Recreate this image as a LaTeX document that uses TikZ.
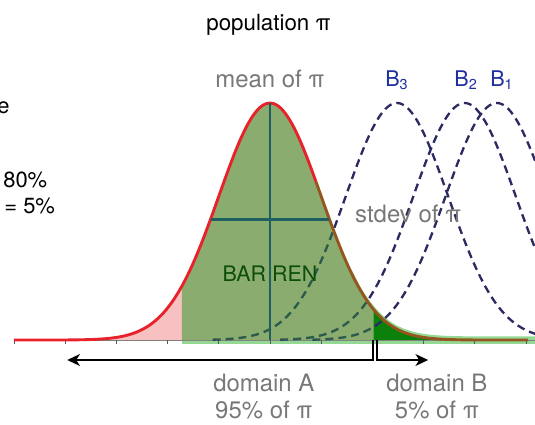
\documentclass[tikz,border=0pt]{standalone}
\usepackage{fontspec}
\setmainfont{TeX Gyre Heros}
\usetikzlibrary{arrows.meta}
\definecolor{popred}{HTML}{E8222A}
\definecolor{tailpink}{HTML}{F7C1C1}
\definecolor{accgreen}{HTML}{8AAC6E}
\definecolor{lightgr}{HTML}{94D894}
\definecolor{darkgr}{HTML}{0B800B}
\definecolor{tealln}{HTML}{1F5F5F}
\definecolor{navyd}{HTML}{2B2B62}
\definecolor{dashin}{HTML}{2C5A4C}
\definecolor{lblgray}{HTML}{787878}
\definecolor{bblue}{HTML}{1E2E9E}
\definecolor{brownln}{HTML}{94561E}
\definecolor{bartext}{HTML}{0D4D0D}
\newcommand{\peakh}{4.629}
\begin{document}
\begin{tikzpicture}[>={Stealth[length=7pt,width=6.5pt,inset=2pt]},
  lbl/.style={text=lblgray, font=\fontsize{13.3}{15}\selectfont},
  blbl/.style={anchor=base, text=bblue, font=\fontsize{12}{14}\selectfont},
  bcurve/.style={dash pattern=on 4.4pt off 2.8pt, line width=1.3pt, smooth, samples=80}]
  \useasboundingbox (-5.273,-1.641) rectangle (5.176,6.641);
  \clip (-5.273,-1.641) rectangle (5.176,6.641);
  % tails of pi
  \fill[tailpink] (-5,0) -- plot[domain=-5:-1.72, smooth, variable=\x] ({\x},{\peakh*exp(-\x*\x/2)}) -- (-1.72,0) -- cycle;
  \fill[lightgr] (1.6,0) -- plot[domain=1.6:5.18, smooth] ({\x},{\peakh*exp(-\x*\x/2)+0.07}) -- (5.18,0) -- cycle;
  \fill[lightgr] (-1.72,-0.07) rectangle (5.18,0);
  \fill[darkgr] (2.02,0) -- plot[domain=2.02:5.04, smooth] ({\x},{\peakh*exp(-\x*\x/2)}) -- (5.04,0) -- cycle;
  % axis
  \draw[gray, line width=0.4pt] (-5,0) -- (5.18,0);
  \foreach \t in {-5,...,5}
    \draw[gray!70!black, line width=0.5pt] (\t,0) -- (\t,-0.07);
  % B curves
  \foreach \m in {2.48,3.80,4.43}
    \draw[bcurve, navyd, domain=\m-3.6:\m+3.6] plot ({\x},{\peakh*exp(-(\x-\m)*(\x-\m)/2)});
  % domain A of pi
  \fill[accgreen] (-1.72,0) -- plot[domain=-1.72:2.02, smooth] ({\x},{\peakh*exp(-\x*\x/2)}) -- (2.02,0) -- cycle;
  \begin{scope}
    \clip (-1.72,0) -- plot[domain=-1.72:2.02, smooth] ({\x},{\peakh*exp(-\x*\x/2)}) -- (2.02,0) -- cycle;
    \foreach \m in {2.48,3.80,4.43}
      \draw[bcurve, dashin, domain=\m-3.6:\m+3.6] plot ({\x},{\peakh*exp(-(\x-\m)*(\x-\m)/2)});
  \end{scope}
  % population curve
  \draw[popred, line width=1.6pt, domain=-5:0.9, smooth, samples=80] plot ({\x},{\peakh*exp(-\x*\x/2)});
  \draw[brownln, line width=1.6pt, domain=0.9:5.04, smooth, samples=60] plot ({\x},{\peakh*exp(-\x*\x/2)});
  % mean and stdev
  \coordinate (foot) at (0,0);
  \coordinate (peak) at (0,\peakh);
  \coordinate (sdl) at (-1.16,2.362);
  \coordinate (sdr) at (1.16,2.362);
  \draw[tealln, line width=1.6pt] (foot) -- (peak);
  \draw[tealln, line width=1.6pt] (sdl) -- (sdr);
  % domain arrows
  \coordinate (cutA) at (2.02,0);
  \coordinate (cutB) at (2.09,0);
  \coordinate (endA) at (-3.96,-0.39);
  \coordinate (endB) at (3.09,-0.39);
  \draw[->, line width=1.2pt] (cutA) |- (endA);
  \draw[->, line width=1.2pt] (cutB) |- (endB);
  % labels
  \node[anchor=base, font=\fontsize{12.4}{15}\selectfont] (title) at (-0.03,6.05) {population π};
  \node[lbl, anchor=base] (meanlbl) at (0,4.94) {mean of π};
  \node[blbl] (bthree) at (2.48,4.96) {B\textsubscript{3}};
  \node[blbl] (btwo) at (3.83,4.96) {B\textsubscript{2}};
  \node[blbl] (bone) at (4.53,4.96) {B\textsubscript{1}};
  \node[lbl, anchor=base] (stdevlbl) at (2.70,2.30) {stdev of π};
  \node[anchor=base, text=bartext, font=\fontsize{11.9}{14}\selectfont] (barren) at (0,1.15) {BAR REN};
  \node[lbl, align=center] (doma) at (-0.12,-1.10) {domain A\\95\% of π};
  \node[lbl, align=center] (domb) at (3.26,-1.10) {domain B\\5\% of π};
  \node[anchor=base east, inner sep=0pt, font=\fontsize{12.2}{14}\selectfont] (cute) at (-5.078,4.43) {e};
  \node[anchor=base west, inner sep=0pt, font=\fontsize{12.2}{14}\selectfont] (cutpow) at (-5.215,2.97) {80\%};
  \node[anchor=base west, inner sep=0pt, font=\fontsize{12.2}{14}\selectfont] (cutalpha) at (-5.195,2.48) {= 5\%};
\end{tikzpicture}
\end{document}
